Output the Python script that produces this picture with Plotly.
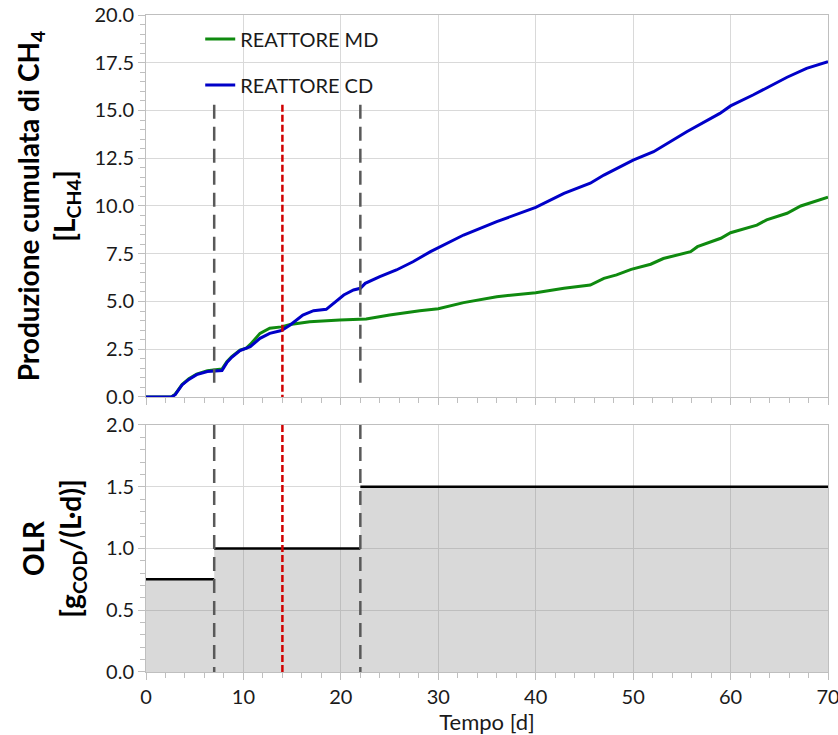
import plotly.graph_objects as go
from plotly.subplots import make_subplots

# ---- data ----
md_days = [0, 2.6, 3.0, 3.7, 4.4, 5.2, 6.3, 7.0, 7.8, 8.3, 8.8, 9.65, 10.3, 10.7, 11.2, 11.7,
           12.7, 13.9, 14.8, 16.8, 19.9, 22.6, 25.0, 28.1, 30.0, 32.6, 36.0, 40.0, 42.9, 45.6,
           47.0, 48.3, 49.8, 51.8, 53.1, 55.9, 56.6, 59.0, 60.0, 62.7, 63.7, 65.8, 67.2, 70.0]
md_vals = [0, 0, 0.15, 0.65, 0.95, 1.2, 1.38, 1.43, 1.46, 1.85, 2.12, 2.46, 2.56, 2.75, 3.05, 3.33,
           3.6, 3.67, 3.8, 3.94, 4.03, 4.08, 4.29, 4.52, 4.62, 4.94, 5.25, 5.46, 5.69, 5.86,
           6.21, 6.39, 6.68, 6.95, 7.25, 7.61, 7.87, 8.31, 8.6, 9.0, 9.27, 9.62, 10.0, 10.46]

cd_days = [0, 2.6, 3.0, 3.7, 4.4, 5.2, 6.3, 7.0, 7.8, 8.3, 8.8, 9.65, 10.7, 11.7, 12.7, 13.9,
           14.8, 16.1, 17.2, 18.5, 19.2, 20.3, 21.3, 22.0, 22.5, 24.0, 25.7, 27.4, 29.2, 32.6,
           36.0, 40.0, 42.9, 45.6, 47.0, 48.6, 50.0, 52.1, 55.5, 58.9, 60.0, 62.3, 65.8, 67.8, 70.0]
cd_vals = [0, 0, 0.12, 0.63, 0.92, 1.17, 1.33, 1.37, 1.38, 1.8, 2.08, 2.43, 2.63, 3.07, 3.33, 3.48,
           3.77, 4.29, 4.52, 4.59, 4.9, 5.34, 5.6, 5.69, 5.95, 6.3, 6.65, 7.08, 7.61, 8.48,
           9.18, 9.93, 10.66, 11.19, 11.62, 12.03, 12.4, 12.84, 13.89, 14.85, 15.24, 15.81, 16.74, 17.21, 17.55]

olr_start = [0, 7, 22]
olr_end = [7, 22, 70]
olr_vals = [0.75, 1.0, 1.5]

x_ticks = [0, 10, 20, 30, 40, 50, 60, 70]

phase_days = [7, 22]      # grey dashed markers
ref_day = [14]            # red dashed marker
marker_top = 15.3         # top of marker lines in upper panel
grey_bottom = 0.37

# ---- figure ----
fig = make_subplots(rows=2, cols=1, shared_xaxes=True)

fig.add_trace(go.Scatter(x=md_days, y=md_vals, mode="lines", name="REATTORE MD",
                         line=dict(color="#0f8a0f", width=3), legendgroup="md"), row=1, col=1)
fig.add_trace(go.Scatter(x=cd_days, y=cd_vals, mode="lines", name="REATTORE CD",
                         line=dict(color="#0000c8", width=3), legendgroup="cd"), row=1, col=1)

# OLR area
fx, fy = [], []
for s, e, v in zip(olr_start, olr_end, olr_vals):
    fx += [s, e]
    fy += [v, v]
fig.add_trace(go.Scatter(x=fx, y=fy, mode="lines", line=dict(width=0),
                         fill="tozeroy", fillcolor="rgba(128,128,128,0.30)",
                         showlegend=False, hoverinfo="skip"), row=2, col=1)
lx, ly = [], []
for s, e, v in zip(olr_start, olr_end, olr_vals):
    lx += [s, e, None]
    ly += [v, v, None]
fig.add_trace(go.Scatter(x=lx, y=ly, mode="lines", line=dict(color="black", width=2.5),
                         showlegend=False), row=2, col=1)

# marker lines (drawn top-down so the dash pattern starts at the top)
for d in phase_days:
    fig.add_shape(type="line", x0=d, x1=d, y0=marker_top, y1=grey_bottom, xref="x", yref="y",
                  line=dict(color="#595959", width=2.5, dash="14px,8px"))
    fig.add_shape(type="line", x0=d, x1=d, y0=2.0, y1=0, xref="x2", yref="y2",
                  line=dict(color="#595959", width=2.5, dash="14px,8px"))
for d in ref_day:
    fig.add_shape(type="line", x0=d, x1=d, y0=marker_top, y1=0, xref="x", yref="y",
                  line=dict(color="#d00000", width=2.5, dash="7px,3px"))
    fig.add_shape(type="line", x0=d, x1=d, y0=2.0, y1=0, xref="x2", yref="y2",
                  line=dict(color="#d00000", width=2.5, dash="7px,3px"))

tickfont = dict(family="Lato", size=20, color="#1a1a1a")
grid = "#d9d9d9"
axcol = "#bfbfbf"

xcommon = dict(range=[0, 70], tickmode="array", tickvals=x_ticks, showgrid=True, gridcolor=grid,
               gridwidth=1, showline=True, linecolor=axcol, linewidth=1, mirror=True,
               ticks="outside", ticklen=7, tickcolor=axcol, automargin=False,
               minor=dict(dtick=2, ticks="outside", ticklen=5, tickcolor=axcol, showgrid=False),
               zeroline=False, tickfont=tickfont, ticklabeloverflow="allow")
fig.update_xaxes(**xcommon)
fig.update_xaxes(showticklabels=False, row=1, col=1)
fig.update_xaxes(title=dict(text="Tempo [d]", font=dict(family="Lato", size=22, color="#1a1a1a"),
                            standoff=0), row=2, col=1)

ycommon = dict(showgrid=True, gridcolor=grid, showline=True, linecolor=axcol, linewidth=1,
               mirror=True, ticks="outside", ticklen=7, tickcolor=axcol, zeroline=False,
               tickformat=".1f", tickfont=tickfont, automargin=False)
fig.update_yaxes(**ycommon)
fig.update_yaxes(range=[0, 20], dtick=2.5,
                 minor=dict(dtick=0.5, ticks="outside", ticklen=5, tickcolor=axcol, showgrid=False),
                 title=dict(text="<b>Produzione cumulata di CH<sub>4</sub><br>[L<sub>CH4</sub>]</b>",
                            font=dict(family="Lato", size=28, color="black"), standoff=10),
                 row=1, col=1)
fig.update_yaxes(range=[0, 2], dtick=0.5,
                 minor=dict(dtick=0.1, ticks="outside", ticklen=5, tickcolor=axcol, showgrid=False),
                 title=dict(text="<b>OLR<br>[g<sub>COD</sub>/(L·d)]</b>",
                            font=dict(family="Lato", size=28, color="black"), standoff=16),
                 row=2, col=1)

fig.update_layout(
    width=838, height=735,
    margin=dict(l=146, r=10, t=15, b=63),
    paper_bgcolor="white", plot_bgcolor="white",
    xaxis=dict(domain=[0, 1]), xaxis2=dict(domain=[0, 1]),
    yaxis=dict(domain=[0.4186, 1.0]), yaxis2=dict(domain=[0.0, 0.376]),
    legend=dict(x=0.0795, y=0.993, xanchor="left", yanchor="top", bgcolor="rgba(0,0,0,0)",
                font=dict(family="Lato", size=20, color="#1a1a1a"),
                traceorder="grouped", tracegroupgap=17),
    font=dict(family="Lato"),
)

fig.write_html("out.html")
